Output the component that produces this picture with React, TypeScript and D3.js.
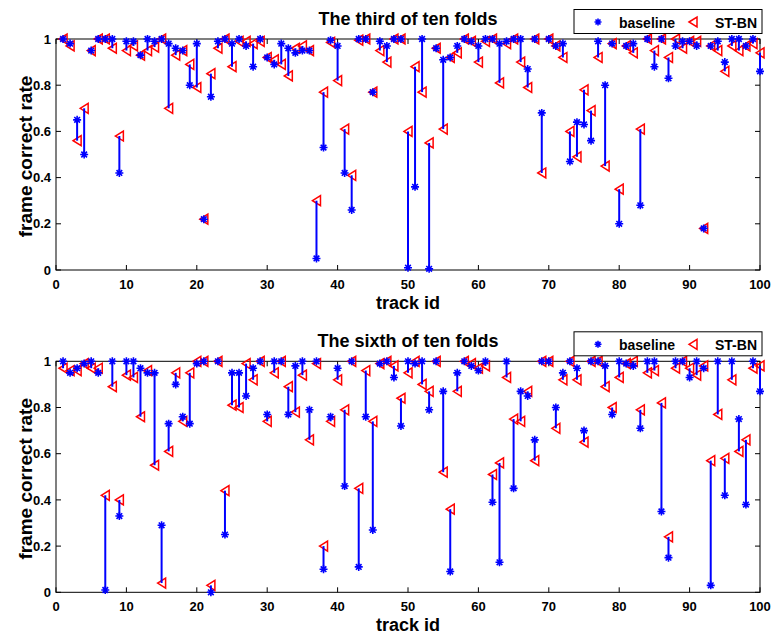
import React from "react";
import * as d3 from "d3";

// track ids 1..100
const trackIds = d3.range(1, 101);

const thirdBaseline = [
  1.0, 0.98, 0.65, 0.5, 0.95, 1.0, 1.0, 1.0, 0.42, 0.99,
  0.99, 0.93, 1.0, 0.99, 1.0, 0.98, 0.96, 0.95, 0.8, 0.98,
  0.22, 0.75, 0.99, 1.0, 0.98, 1.0, 0.97, 0.88, 1.0, 0.92,
  0.89, 0.98, 0.96, 0.94, 0.95, 0.95, 0.05, 0.53, 0.995, 0.97,
  0.42, 0.26, 1.0, 1.0, 0.77, 0.99, 0.97, 1.0, 1.0, 0.01,
  0.36, 1.0, 0.005, 0.96, 0.91, 0.92, 0.97, 1.0, 0.99, 0.97,
  1.0, 1.0, 0.98, 0.99, 1.0, 1.0, 0.87, 1.0, 0.68, 1.0,
  0.97, 0.98, 0.47, 0.64, 0.63, 0.56, 0.99, 0.8, 0.98, 0.2,
  0.97, 0.98, 0.28, 1.0, 0.88, 1.0, 0.83, 0.97, 0.99, 0.99,
  0.97, 0.18, 0.97, 0.99, 0.9, 1.0, 1.0, 0.97, 1.0, 0.86,
];

const thirdStbn = [
  1.0, 0.97, 0.56, 0.7, 0.95, 1.0, 1.0, 0.96, 0.58, 0.95,
  0.97, 0.93, 0.95, 0.965, 1.0, 0.7, 0.93, 0.95, 0.89, 0.79,
  0.22, 0.85, 0.96, 1.0, 0.88, 0.99, 0.99, 0.98, 0.99, 0.92,
  0.91, 0.89, 0.84, 0.96, 0.97, 0.95, 0.3, 0.77, 0.985, 0.82,
  0.61, 0.41, 0.995, 1.0, 0.77, 0.95, 0.9, 1.0, 1.0, 0.6,
  0.88, 0.77, 0.55, 0.96, 0.61, 0.92, 0.94, 1.0, 0.99, 0.9,
  0.99, 1.0, 0.81, 0.98, 1.0, 0.9, 0.79, 1.0, 0.42, 1.0,
  0.97, 0.92, 0.6, 0.49, 0.78, 0.69, 0.92, 0.45, 0.98, 0.35,
  0.97, 0.94, 0.61, 1.0, 0.95, 1.0, 0.92, 1.0, 0.96, 0.99,
  0.99, 0.18, 0.97, 0.95, 0.86, 0.97, 0.95, 0.97, 0.98, 0.94,
];

const sixthBaseline = [
  1.0, 0.95, 0.97, 0.99, 1.0, 0.95, 0.01, 1.0, 0.33, 1.0,
  1.0, 0.97, 0.95, 0.95, 0.29, 0.73, 0.9, 0.76, 0.73, 0.99,
  1.0, 0.0, 1.0, 0.25, 0.95, 0.95, 0.85, 0.97, 1.0, 0.77,
  1.0, 1.0, 0.77, 0.98, 1.0, 0.79, 1.0, 0.1, 0.76, 0.97,
  0.46, 1.0, 0.11, 0.76, 0.27, 0.99, 1.0, 0.93, 0.72, 1.0,
  0.99, 1.0, 0.79, 1.0, 0.87, 0.09, 0.95, 1.0, 0.98, 0.96,
  1.0, 0.39, 0.13, 1.0, 0.45, 0.87, 0.85, 0.66, 1.0, 1.0,
  0.8, 0.95, 1.0, 0.97, 0.7, 1.0, 1.0, 0.98, 0.77, 1.0,
  0.99, 0.98, 0.71, 1.0, 1.0, 0.35, 0.15, 1.0, 1.0, 0.93,
  1.0, 0.97, 0.03, 1.0, 0.42, 1.0, 0.75, 0.38, 1.0, 0.87,
];

const sixthStbn = [
  0.97, 0.96, 0.96, 0.99, 0.97, 0.97, 0.42, 0.89, 0.4, 0.94,
  0.93, 0.76, 0.96, 0.55, 0.04, 0.61, 0.95, 0.74, 0.95, 1.0,
  1.0, 0.03, 1.0, 0.44, 0.81, 0.8, 0.99, 0.92, 1.0, 0.74,
  0.95, 1.0, 0.89, 0.78, 0.94, 0.66, 0.99, 0.2, 0.74, 0.92,
  0.79, 1.0, 0.45, 0.96, 0.74, 0.99, 1.0, 0.98, 0.84, 0.95,
  1.0, 0.9, 0.87, 1.0, 0.52, 0.36, 0.87, 1.0, 0.99, 0.97,
  0.98, 0.51, 0.56, 0.93, 0.75, 0.74, 0.87, 0.57, 1.0, 1.0,
  0.71, 0.92, 1.0, 0.92, 0.65, 1.0, 1.0, 0.89, 0.8, 0.93,
  0.99, 1.0, 0.79, 0.95, 0.96, 0.82, 0.24, 0.97, 1.0, 0.97,
  0.94, 0.98, 0.57, 0.77, 0.58, 0.92, 0.61, 0.66, 0.97, 0.98,
];

const xTicks = [0, 10, 20, 30, 40, 50, 60, 70, 80, 90, 100];
const yTicks = [0, 0.2, 0.4, 0.6, 0.8, 1];

const FONT = "'Liberation Sans', Arial, Helvetica, sans-serif";
const BLUE = "#0000ff";
const RED = "#ff0000";

const left = 56;
const right = 760;
const plotH = 231;

const x = d3.scaleLinear().domain([0, 100]).range([left, right]);

// matlab style '*' marker
const starPath = (r: number) => {
  const d = r * 0.707;
  return `M${-r},0L${r},0M0,${-r}L0,${r}M${-d},${-d}L${d},${d}M${-d},${d}L${d},${-d}`;
};
// matlab style '<' marker
const triPath = "M-4,0L4,-5L4,5Z";

function Panel(props: { top: number; title: string; baseline: number[]; stbn: number[] }) {
  const { top, title, baseline, stbn } = props;
  const bottom = top + plotH;
  const y = d3.scaleLinear().domain([0, 1]).range([bottom, top]);
  const fmtY = (d: number) => (d === 0 || d === 1 ? String(d) : d3.format(".1f")(d));

  return (
    <g>
      <text x={(left + right) / 2} y={top - 14} textAnchor="middle" fontSize={18} fontWeight="bold" fontFamily={FONT}>
        {title}
      </text>

      {/* axes box */}
      <rect x={left} y={top} width={right - left} height={plotH} fill="white" stroke="black" strokeWidth={1} />

      {xTicks.map((t) => (
        <g key={"x" + t}>
          <line x1={x(t)} x2={x(t)} y1={bottom} y2={bottom - 5} stroke="black" />
          <line x1={x(t)} x2={x(t)} y1={top} y2={top + 5} stroke="black" />
          <text x={x(t)} y={bottom + 19} textAnchor="middle" fontSize={13} fontWeight="bold" fontFamily={FONT}>
            {t}
          </text>
        </g>
      ))}
      {yTicks.map((t) => (
        <g key={"y" + t}>
          <line x1={left} x2={left + 5} y1={y(t)} y2={y(t)} stroke="black" />
          <line x1={right} x2={right - 5} y1={y(t)} y2={y(t)} stroke="black" />
          <text x={51} y={y(t)} dy="0.36em" textAnchor="end" fontSize={13} fontWeight="bold" fontFamily={FONT}>
            {fmtY(t)}
          </text>
        </g>
      ))}

      <text x={(left + right) / 2} y={bottom + 39} textAnchor="middle" fontSize={18} fontWeight="bold" fontFamily={FONT}>
        track id
      </text>
      <text
        transform={`translate(32,${(top + bottom) / 2 + 2}) rotate(-90)`}
        textAnchor="middle"
        fontSize={19}
        fontWeight="bold"
        fontFamily={FONT}
      >
        frame correct rate
      </text>

      {/* markers */}
      {trackIds.map((id, i) => (
        <path
          key={"t" + id}
          d={triPath}
          transform={`translate(${x(id)},${y(stbn[i])})`}
          fill="none"
          stroke={RED}
          strokeWidth={1.5}
        />
      ))}
      {trackIds.map((id, i) => (
        <line key={"l" + id} x1={x(id)} x2={x(id)} y1={y(baseline[i])} y2={y(stbn[i])} stroke={BLUE} strokeWidth={2} />
      ))}
      {trackIds.map((id, i) => (
        <path
          key={"b" + id}
          d={starPath(4)}
          transform={`translate(${x(id)},${y(baseline[i])})`}
          stroke={BLUE}
          strokeWidth={1.6}
        />
      ))}

      {/* legend */}
      <g transform={`translate(0,${top})`}>
        <rect x={574} y={-29.5} width={188} height={24} fill="white" stroke="black" strokeWidth={1} />
        <path d={starPath(3.5)} transform="translate(598,-17)" stroke={BLUE} strokeWidth={1.6} />
        <text x={619} y={-11.5} fontSize={14} fontWeight="bold" fontFamily={FONT}>
          baseline
        </text>
        <path d={triPath} transform="translate(693,-17)" fill="none" stroke={RED} strokeWidth={1.5} />
        <text x={715} y={-11.5} fontSize={14} fontWeight="bold" fontFamily={FONT}>
          ST-BN
        </text>
      </g>
    </g>
  );
}

export default function App() {
  return (
    <svg width={771} height={644} style={{ position: "absolute", left: 0, top: 0, background: "white" }}>
      <rect width={771} height={644} fill="white" />
      <Panel top={39} title="The third of ten folds" baseline={thirdBaseline} stbn={thirdStbn} />
      <Panel top={361.3} title="The sixth of ten folds" baseline={sixthBaseline} stbn={sixthStbn} />
    </svg>
  );
}
